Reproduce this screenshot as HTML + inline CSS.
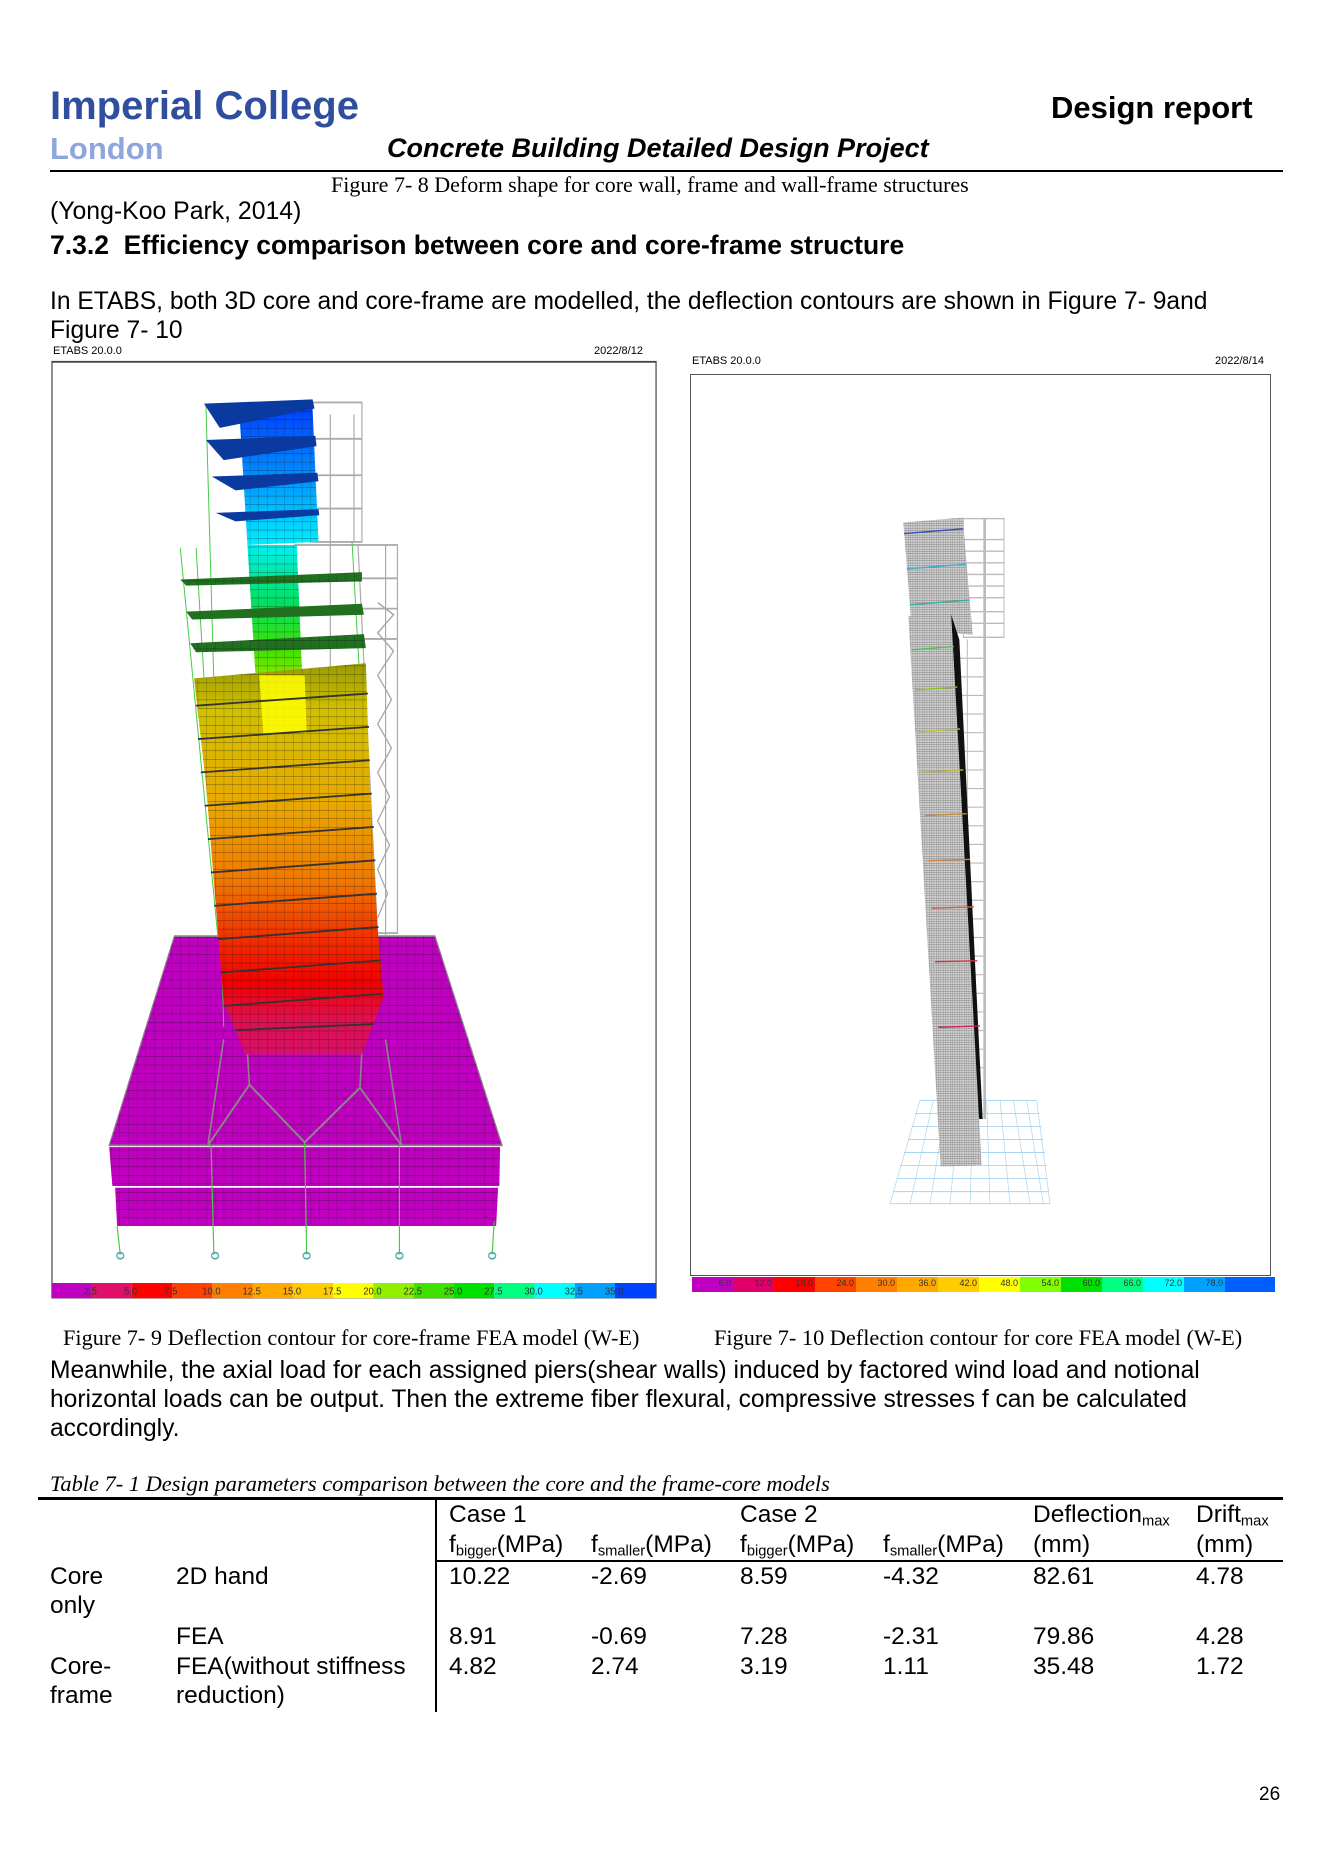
<!DOCTYPE html>
<html><head><meta charset="utf-8">
<style>
body{margin:0;background:#fff;}
#page{position:relative;width:1323px;height:1871px;overflow:hidden;background:#fff;font-family:"Liberation Sans",Arial,sans-serif;color:#000;}
.t{position:absolute;white-space:nowrap;line-height:1;}
.serif{font-family:"Liberation Serif","Times New Roman",serif;}
sub{font-size:60%;vertical-align:-0.25em;}
.cb{position:absolute;display:flex;}
.cb div{height:100%;position:relative;}
.cb span{position:absolute;right:2px;top:1px;font-size:9px;color:#333;}
</style></head>
<body>
<div id="page">
<div class="t" style="left:50px;top:86px;font-size:40px;font-weight:bold;color:#2f4f9e;">Imperial College</div>
<div class="t" style="left:50px;top:133px;font-size:31px;font-weight:bold;color:#8ea6dc;">London</div>
<div class="t" style="left:1051px;top:92px;font-size:31px;font-weight:bold;">Design report</div>
<div class="t" style="left:387px;top:135px;font-size:27px;font-weight:bold;font-style:italic;">Concrete Building Detailed Design Project</div>
<div style="position:absolute;left:50px;top:170px;width:1233px;height:2px;background:#000;"></div>
<div class="t serif" style="left:331px;top:174px;font-size:22px;">Figure 7- 8 Deform shape for core wall, frame and wall-frame structures</div>
<div class="t" style="left:50px;top:200px;font-size:24.8px;">(Yong-Koo Park, 2014)</div>
<div class="t" style="left:50px;top:232px;font-size:26.5px;font-weight:bold;">7.3.2&nbsp;&nbsp;Efficiency comparison between core and core-frame structure</div>
<div class="t" style="left:50px;top:290px;font-size:24.6px;">In ETABS, both 3D core and core-frame are modelled, the deflection contours are shown in Figure 7- 9and</div>
<div class="t" style="left:50px;top:319px;font-size:24.6px;">Figure 7- 10</div>

<!-- left figure -->
<div class="t" style="left:53px;top:346px;font-size:11px;">ETABS 20.0.0</div>
<div class="t" style="left:594px;top:346px;font-size:11px;">2022/8/12</div>
<svg style="position:absolute;left:50px;top:360px;" width="610" height="940" viewBox="0 0 1545 1550" preserveAspectRatio="none">
<defs>
<pattern id="mesh" width="22" height="14" patternUnits="userSpaceOnUse"><path d="M0 0H22M0 0V14" stroke="#111" stroke-width="1.6" fill="none" opacity="0.55"/></pattern>
<linearGradient id="band" gradientUnits="userSpaceOnUse" x1="0" y1="500" x2="0" y2="1145">
<stop offset="0" stop-color="#9a9a00"/><stop offset="0.12" stop-color="#d0c000"/><stop offset="0.35" stop-color="#e8aa00"/><stop offset="0.55" stop-color="#f07a00"/><stop offset="0.72" stop-color="#f02800"/><stop offset="0.82" stop-color="#f00000"/><stop offset="0.9" stop-color="#e0104a"/><stop offset="1" stop-color="#d8106a"/></linearGradient>
<linearGradient id="core1" gradientUnits="userSpaceOnUse" x1="0" y1="80" x2="0" y2="305"><stop offset="0" stop-color="#0040ff"/><stop offset="0.5" stop-color="#0090ff"/><stop offset="1" stop-color="#00f0ff"/></linearGradient>
<linearGradient id="core2" gradientUnits="userSpaceOnUse" x1="0" y1="305" x2="0" y2="620"><stop offset="0" stop-color="#00f0f0"/><stop offset="0.3" stop-color="#00e060"/><stop offset="0.55" stop-color="#40e000"/><stop offset="0.8" stop-color="#c0f000"/><stop offset="1" stop-color="#ffff00"/></linearGradient>
</defs>
<rect x="5" y="3" width="1530" height="1543" fill="#fff" stroke="#444" stroke-width="3"/>
<g>
<polygon points="165,1365 1135,1365 1130,1428 170,1428" fill="#c000c0"/>
<polygon points="165,1365 1135,1365 1130,1428 170,1428" fill="url(#mesh)"/>
<polygon points="150,1298 1140,1298 1138,1362 158,1362" fill="#c000c0"/>
<polygon points="150,1298 1140,1298 1138,1362 158,1362" fill="url(#mesh)"/>
<polygon points="315,950 975,950 1145,1295 150,1295" fill="#c000c0" stroke="#888" stroke-width="3"/>
<polygon points="315,950 975,950 1145,1295 150,1295" fill="url(#mesh)"/>
</g>
<g stroke="#888" stroke-width="4" fill="none">
<polyline points="500,1140 505,1195 645,1290 785,1200 790,1140"/>
<line x1="440" y1="1120" x2="400" y2="1295"/><line x1="850" y1="1120" x2="890" y2="1295"/>
<line x1="505" y1="1195" x2="400" y2="1295"/><line x1="785" y1="1200" x2="890" y2="1295"/>
</g>
<g stroke="#4c4" stroke-width="3">
<line x1="170" y1="1428" x2="178" y2="1475"/><line x1="408" y1="1295" x2="415" y2="1475"/><line x1="645" y1="1290" x2="650" y2="1475"/><line x1="885" y1="1295" x2="885" y2="1475"/><line x1="1125" y1="1420" x2="1120" y2="1475"/>
</g>
<g fill="none" stroke="#5aa" stroke-width="3">
<ellipse cx="178" cy="1477" rx="9" ry="5"/><ellipse cx="418" cy="1477" rx="9" ry="5"/><ellipse cx="650" cy="1477" rx="9" ry="5"/><ellipse cx="885" cy="1477" rx="9" ry="5"/><ellipse cx="1120" cy="1477" rx="9" ry="5"/>
</g>
<g stroke="#aaa" stroke-width="3" fill="none">
<rect x="660" y="70" width="130" height="230"/>
<line x1="710" y1="90" x2="710" y2="560"/><line x1="770" y1="90" x2="770" y2="300"/>
<line x1="660" y1="130" x2="790" y2="130"/><line x1="660" y1="190" x2="790" y2="190"/><line x1="660" y1="245" x2="790" y2="245"/>
<rect x="620" y="305" width="260" height="640"/>
<line x1="850" y1="305" x2="850" y2="950"/><line x1="780" y1="305" x2="830" y2="950"/>
<polyline points="830,400 870,420 830,450 870,480 830,520 865,560 830,600 865,640 830,680 860,720 830,760 860,800 830,840 855,880 830,920"/>
<line x1="620" y1="360" x2="880" y2="360"/><line x1="620" y1="410" x2="880" y2="410"/><line x1="620" y1="460" x2="880" y2="460"/>
</g>
<g stroke="#4c4" stroke-width="2.5">
<line x1="395" y1="75" x2="440" y2="1100"/><line x1="330" y1="310" x2="425" y2="950"/><line x1="370" y1="310" x2="440" y2="1060"/><line x1="765" y1="300" x2="830" y2="1050"/>
</g>
<polygon points="480,90 665,80 680,300 500,305" fill="url(#core1)"/>
<polygon points="480,90 665,80 680,300 500,305" fill="url(#mesh)"/>
<polygon points="500,305 625,305 645,620 530,620" fill="url(#core2)"/>
<polygon points="500,305 625,305 645,620 530,620" fill="url(#mesh)"/>
<g>
<polygon points="390,72 665,65 670,80 430,112" fill="#0a3aa0"/>
<polygon points="395,132 672,125 675,142 440,165" fill="#0a3aa0"/>
<polygon points="410,192 677,186 680,200 470,215" fill="#0a3aa0"/>
<polygon points="420,252 680,246 682,256 470,266" fill="#0a3aa0"/>
<polygon points="330,362 790,350 790,365 345,372" fill="#207020"/>
<polygon points="345,415 790,402 795,420 360,428" fill="#207020"/>
<polygon points="355,467 795,452 800,475 370,482" fill="#207020"/>
<polygon points="330,362 790,350 790,365 345,372" fill="url(#mesh)"/>
<polygon points="355,467 795,452 800,475 370,482" fill="url(#mesh)"/>
</g>
<polygon points="365,525 800,500 810,700 830,940 845,1050 790,1145 495,1145 440,1060 425,940 395,700" fill="url(#band)"/>
<polygon points="365,525 800,500 810,700 830,940 845,1050 790,1145 495,1145 440,1060 425,940 395,700" fill="url(#mesh)"/>
<polygon points="530,520 645,520 650,615 540,615" fill="#ffff00" opacity="0.85"/>
<g stroke="#333" stroke-width="3">
<line x1="370" y1="570" x2="805" y2="550"/><line x1="375" y1="625" x2="808" y2="605"/><line x1="382" y1="680" x2="810" y2="660"/><line x1="392" y1="735" x2="815" y2="715"/><line x1="400" y1="790" x2="820" y2="770"/><line x1="408" y1="845" x2="824" y2="825"/><line x1="416" y1="900" x2="828" y2="880"/><line x1="425" y1="955" x2="832" y2="935"/><line x1="432" y1="1010" x2="838" y2="990"/><line x1="440" y1="1065" x2="842" y2="1045"/><line x1="470" y1="1105" x2="820" y2="1095"/>
</g>
<g>
<rect x="5" y="1522" width="100" height="25" fill="#c000c0"/>
<rect x="105" y="1522" width="102" height="25" fill="#e0106a"/>
<rect x="207" y="1522" width="102" height="25" fill="#ff0000"/>
<rect x="309" y="1522" width="102" height="25" fill="#ff4000"/>
<rect x="411" y="1522" width="102" height="25" fill="#ff8000"/>
<rect x="513" y="1522" width="102" height="25" fill="#ffa800"/>
<rect x="615" y="1522" width="102" height="25" fill="#ffcc00"/>
<rect x="717" y="1522" width="102" height="25" fill="#ffff00"/>
<rect x="819" y="1522" width="102" height="25" fill="#90f000"/>
<rect x="921" y="1522" width="102" height="25" fill="#40e000"/>
<rect x="1023" y="1522" width="102" height="25" fill="#00e000"/>
<rect x="1125" y="1522" width="102" height="25" fill="#00ff80"/>
<rect x="1227" y="1522" width="102" height="25" fill="#00ffff"/>
<rect x="1329" y="1522" width="102" height="25" fill="#00a0ff"/>
<rect x="1431" y="1522" width="104" height="25" fill="#0040ff"/>
<g font-family="Liberation Sans, sans-serif" font-size="16" fill="#333" transform="translate(0,1541) scale(1.5,1) translate(0,-1541)">
<text x="57" y="1541">2.5</text><text x="125" y="1541">5.0</text><text x="193" y="1541">7.5</text><text x="257" y="1541">10.0</text><text x="325" y="1541">12.5</text><text x="393" y="1541">15.0</text><text x="461" y="1541">17.5</text><text x="529" y="1541">20.0</text><text x="597" y="1541">22.5</text><text x="665" y="1541">25.0</text><text x="733" y="1541">27.5</text><text x="801" y="1541">30.0</text><text x="869" y="1541">32.5</text><text x="937" y="1541">35.0</text>
</g>
</g>
</svg>

<div class="t" style="left:692px;top:356px;font-size:11px;">ETABS 20.0.0</div>
<div class="t" style="left:1215px;top:356px;font-size:11px;">2022/8/14</div>
<div style="position:absolute;left:690px;top:374px;width:579px;height:900px;border:1.5px solid #555;"></div>
<svg style="position:absolute;left:880px;top:500px;" width="200" height="720" viewBox="0 0 600 1547" preserveAspectRatio="none">
<defs>
<pattern id="fine" width="7" height="5" patternUnits="userSpaceOnUse"><rect width="7" height="5" fill="#d2d2d2"/><path d="M0 0H7M0 0V5" stroke="#666" stroke-width="1.5"/></pattern>
</defs>
<g stroke="#a8d4f0" stroke-width="2" fill="none">
<line x1="120" y1="1290" x2="470" y2="1290"/><line x1="105" y1="1318" x2="478" y2="1318"/><line x1="95" y1="1346" x2="485" y2="1346"/><line x1="85" y1="1374" x2="490" y2="1374"/><line x1="72" y1="1402" x2="495" y2="1402"/><line x1="60" y1="1430" x2="500" y2="1430"/><line x1="50" y1="1458" x2="503" y2="1458"/><line x1="40" y1="1486" x2="507" y2="1486"/><line x1="30" y1="1512" x2="510" y2="1512"/>
<line x1="120" y1="1290" x2="30" y2="1512"/><line x1="160" y1="1290" x2="90" y2="1512"/><line x1="200" y1="1290" x2="150" y2="1512"/><line x1="240" y1="1290" x2="210" y2="1512"/><line x1="280" y1="1290" x2="270" y2="1512"/><line x1="320" y1="1290" x2="330" y2="1512"/><line x1="360" y1="1290" x2="390" y2="1512"/><line x1="400" y1="1290" x2="450" y2="1512"/><line x1="440" y1="1290" x2="490" y2="1512"/><line x1="470" y1="1290" x2="510" y2="1512"/>
</g>
<g stroke="#bbb" stroke-width="3" fill="none">
<rect x="250" y="40" width="122" height="255"/>
<line x1="250" y1="85" x2="372" y2="85"/><line x1="250" y1="110" x2="372" y2="110"/><line x1="250" y1="135" x2="372" y2="135"/><line x1="250" y1="160" x2="372" y2="160"/><line x1="250" y1="185" x2="372" y2="185"/><line x1="250" y1="210" x2="372" y2="210"/><line x1="250" y1="240" x2="372" y2="240"/><line x1="250" y1="265" x2="372" y2="265"/>
<line x1="235" y1="300" x2="235" y2="1320"/><line x1="262" y1="300" x2="262" y2="1320"/>
</g>
<rect x="310" y="40" width="8" height="1290" fill="#bbb"/>
<g stroke="#bbb" stroke-width="2.5">
<line x1="235" y1="340" x2="310" y2="340"/><line x1="235" y1="380" x2="310" y2="380"/><line x1="235" y1="420" x2="310" y2="420"/><line x1="235" y1="460" x2="310" y2="460"/><line x1="235" y1="500" x2="310" y2="500"/><line x1="235" y1="540" x2="310" y2="540"/><line x1="235" y1="580" x2="310" y2="580"/><line x1="235" y1="620" x2="310" y2="620"/><line x1="235" y1="660" x2="310" y2="660"/><line x1="235" y1="700" x2="310" y2="700"/><line x1="235" y1="740" x2="310" y2="740"/><line x1="235" y1="780" x2="310" y2="780"/><line x1="235" y1="820" x2="310" y2="820"/><line x1="235" y1="860" x2="310" y2="860"/><line x1="235" y1="900" x2="310" y2="900"/><line x1="235" y1="940" x2="310" y2="940"/><line x1="235" y1="980" x2="310" y2="980"/><line x1="235" y1="1020" x2="310" y2="1020"/><line x1="235" y1="1060" x2="310" y2="1060"/><line x1="235" y1="1100" x2="310" y2="1100"/><line x1="235" y1="1140" x2="310" y2="1140"/><line x1="235" y1="1180" x2="310" y2="1180"/><line x1="235" y1="1220" x2="310" y2="1220"/>
</g>
<polygon points="70,48 248,38 278,290 95,275" fill="url(#fine)"/>
<polygon points="213,245 238,300 308,1330 296,1330" fill="#111"/>
<polygon points="85,250 213,240 305,1430 182,1432" fill="url(#fine)"/>
<g stroke-width="3">
<line x1="72" y1="72" x2="250" y2="62" stroke="#3050c0"/><line x1="80" y1="148" x2="258" y2="138" stroke="#40b0d0"/><line x1="90" y1="225" x2="268" y2="215" stroke="#30b0a0"/>
<line x1="95" y1="322" x2="222" y2="315" stroke="#50c050"/><line x1="105" y1="408" x2="232" y2="402" stroke="#90c030"/><line x1="115" y1="498" x2="240" y2="492" stroke="#c0c040"/><line x1="125" y1="585" x2="250" y2="580" stroke="#c0b040"/><line x1="135" y1="678" x2="260" y2="674" stroke="#c09040"/><line x1="145" y1="775" x2="270" y2="772" stroke="#d08040"/><line x1="155" y1="877" x2="282" y2="874" stroke="#d06040"/><line x1="165" y1="992" x2="292" y2="990" stroke="#d03040"/><line x1="175" y1="1133" x2="300" y2="1130" stroke="#d02060"/>
</g>
</svg>
<div class="cb" style="left:692px;top:1277px;width:583px;height:15px;">
<div style="width:41px;background:#c000c0"><span>6.0</span></div>
<div style="width:41px;background:#e0006a"><span>12.0</span></div>
<div style="width:41px;background:#ff0000"><span>18.0</span></div>
<div style="width:41px;background:#ff4400"><span>24.0</span></div>
<div style="width:41px;background:#ff8000"><span>30.0</span></div>
<div style="width:41px;background:#ffa800"><span>36.0</span></div>
<div style="width:41px;background:#ffcc00"><span>42.0</span></div>
<div style="width:41px;background:#ffff00"><span>48.0</span></div>
<div style="width:41px;background:#80ff00"><span>54.0</span></div>
<div style="width:41px;background:#00e000"><span>60.0</span></div>
<div style="width:41px;background:#00ff80"><span>66.0</span></div>
<div style="width:41px;background:#00ffff"><span>72.0</span></div>
<div style="width:41px;background:#00a0ff"><span>78.0</span></div>
<div style="width:50px;background:#0060ff"></div>
</div>

<div class="t serif" style="left:63px;top:1327px;font-size:22.3px;">Figure 7- 9 Deflection contour for core-frame FEA model (W-E)</div>
<div class="t serif" style="left:714px;top:1327px;font-size:22.3px;">Figure 7- 10 Deflection contour for core FEA model (W-E)</div>
<div class="t" style="left:50px;top:1359px;font-size:24.6px;">Meanwhile, the axial load for each assigned piers(shear walls) induced by factored wind load and notional</div>
<div class="t" style="left:50px;top:1388px;font-size:24.6px;">horizontal loads can be output. Then the extreme fiber flexural, compressive stresses f can be calculated</div>
<div class="t" style="left:50px;top:1417px;font-size:24.6px;">accordingly.</div>

<div class="t serif" style="left:50px;top:1473px;font-size:22.4px;font-style:italic;">Table 7- 1 Design parameters comparison between the core and the frame-core models</div>
<div style="position:absolute;left:0;top:0;width:1323px;height:1871px;font-size:24.5px;">
<div style="position:absolute;left:38px;top:1497px;width:1245px;height:3px;background:#000;"></div>
<div style="position:absolute;left:435px;top:1499px;width:1.5px;height:213px;background:#000;"></div>
<div style="position:absolute;left:435px;top:1560px;width:848px;height:2px;background:#000;"></div>
<div class="t" style="left:449px;top:1503px;">Case 1</div>
<div class="t" style="left:740px;top:1503px;">Case 2</div>
<div class="t" style="left:1033px;top:1503px;">Deflection<sub>max</sub></div>
<div class="t" style="left:1196px;top:1503px;">Drift<sub>max</sub></div>
<div class="t" style="left:449px;top:1533px;">f<sub>bigger</sub>(MPa)</div>
<div class="t" style="left:591px;top:1533px;">f<sub>smaller</sub>(MPa)</div>
<div class="t" style="left:740px;top:1533px;">f<sub>bigger</sub>(MPa)</div>
<div class="t" style="left:883px;top:1533px;">f<sub>smaller</sub>(MPa)</div>
<div class="t" style="left:1033px;top:1533px;">(mm)</div>
<div class="t" style="left:1196px;top:1533px;">(mm)</div>

<div class="t" style="left:50px;top:1565px;">Core</div>
<div class="t" style="left:50px;top:1594px;">only</div>
<div class="t" style="left:176px;top:1565px;">2D hand</div>
<div class="t" style="left:449px;top:1565px;">10.22</div><div class="t" style="left:591px;top:1565px;">-2.69</div><div class="t" style="left:740px;top:1565px;">8.59</div><div class="t" style="left:883px;top:1565px;">-4.32</div><div class="t" style="left:1033px;top:1565px;">82.61</div><div class="t" style="left:1196px;top:1565px;">4.78</div>

<div class="t" style="left:176px;top:1625px;">FEA</div>
<div class="t" style="left:449px;top:1625px;">8.91</div><div class="t" style="left:591px;top:1625px;">-0.69</div><div class="t" style="left:740px;top:1625px;">7.28</div><div class="t" style="left:883px;top:1625px;">-2.31</div><div class="t" style="left:1033px;top:1625px;">79.86</div><div class="t" style="left:1196px;top:1625px;">4.28</div>

<div class="t" style="left:50px;top:1655px;">Core-</div>
<div class="t" style="left:50px;top:1684px;">frame</div>
<div class="t" style="left:176px;top:1655px;">FEA(without stiffness</div>
<div class="t" style="left:176px;top:1684px;">reduction)</div>
<div class="t" style="left:449px;top:1655px;">4.82</div><div class="t" style="left:591px;top:1655px;">2.74</div><div class="t" style="left:740px;top:1655px;">3.19</div><div class="t" style="left:883px;top:1655px;">1.11</div><div class="t" style="left:1033px;top:1655px;">35.48</div><div class="t" style="left:1196px;top:1655px;">1.72</div>
</div>

<div class="t" style="left:1259px;top:1785px;font-size:19px;">26</div>
</div>
</body></html>
